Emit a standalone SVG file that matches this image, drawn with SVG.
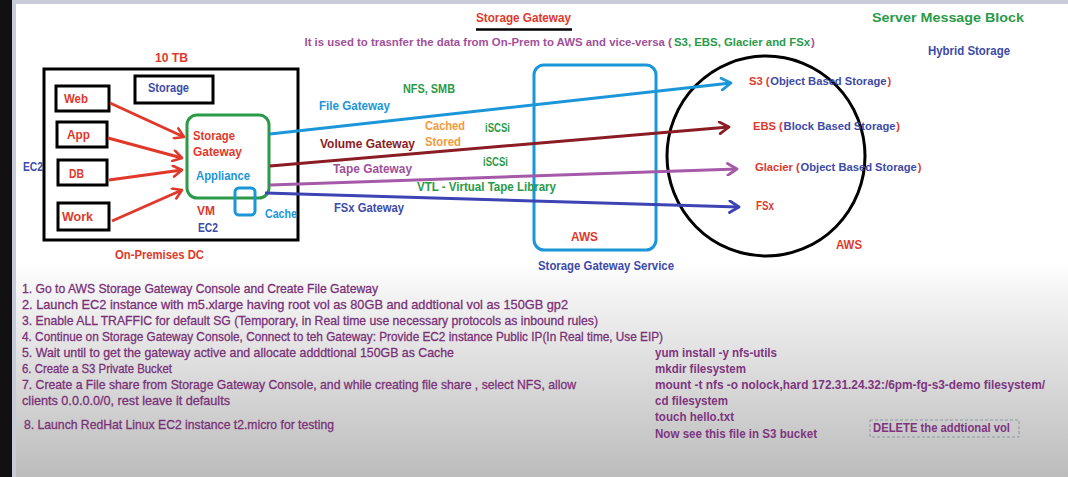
<svg xmlns="http://www.w3.org/2000/svg" width="1068" height="477" viewBox="0 0 1068 477">
<defs>
<linearGradient id="bg" x1="0" y1="0" x2="0" y2="1">
<stop offset="0" stop-color="#ffffff"/>
<stop offset="0.15" stop-color="#f3f3f3"/>
<stop offset="1" stop-color="#bcbcbc"/>
</linearGradient>
<marker id="mRed" viewBox="0 0 12 12" refX="10" refY="6" markerWidth="13" markerHeight="13" markerUnits="userSpaceOnUse" orient="auto"><path d="M2,1 L10,6 L2,11" fill="none" stroke="#e0392b" stroke-width="2.4" stroke-linecap="round" stroke-linejoin="round"/></marker>
<marker id="mLb" viewBox="0 0 12 12" refX="10" refY="6" markerWidth="14" markerHeight="14" markerUnits="userSpaceOnUse" orient="auto"><path d="M2,1 L10,6 L2,11" fill="none" stroke="#1b96d8" stroke-width="2.4" stroke-linecap="round" stroke-linejoin="round"/></marker>
<marker id="mDr" viewBox="0 0 12 12" refX="10" refY="6" markerWidth="14" markerHeight="14" markerUnits="userSpaceOnUse" orient="auto"><path d="M2,1 L10,6 L2,11" fill="none" stroke="#8b1c24" stroke-width="2.4" stroke-linecap="round" stroke-linejoin="round"/></marker>
<marker id="mPu" viewBox="0 0 12 12" refX="10" refY="6" markerWidth="14" markerHeight="14" markerUnits="userSpaceOnUse" orient="auto"><path d="M2,1 L10,6 L2,11" fill="none" stroke="#a45aa8" stroke-width="2.4" stroke-linecap="round" stroke-linejoin="round"/></marker>
<marker id="mDb" viewBox="0 0 12 12" refX="10" refY="6" markerWidth="14" markerHeight="14" markerUnits="userSpaceOnUse" orient="auto"><path d="M2,1 L10,6 L2,11" fill="none" stroke="#3c44b4" stroke-width="2.4" stroke-linecap="round" stroke-linejoin="round"/></marker>
</defs>
<style>
text{font-family:"Liberation Sans",Arial,sans-serif;font-size:12.5px;font-weight:bold;dominant-baseline:middle}
.red{fill:#e0392b}.grn{fill:#2a9a48}.blu{fill:#3c4aa8}.lb{fill:#1b96d8}.pur{fill:#a0509a}.org{fill:#f39a3c}.dr{fill:#8b1c24}
.sub{font-size:11.4px}
.aws{font-size:11.2px}
.step{fill:#7a3078;font-weight:normal;font-size:13px;stroke:#7a3078;stroke-width:0.3}
.cmd{fill:#7e3580;font-weight:bold;font-size:12.5px}
.box{fill:none;stroke:#000;stroke-width:3}
</style>
<rect width="1068" height="477" fill="#ffffff"/>
<rect x="0" y="262" width="1068" height="215" fill="url(#bg)"/>
<rect x="0" y="0" width="1068" height="4" fill="#c8ccd8"/>
<rect x="12" y="0" width="4" height="477" fill="#c8ccd8"/>
<rect x="0" y="0" width="12" height="477" fill="#111111"/>

<g id="title">
<text x="476" y="19" class="red" textLength="95" lengthAdjust="spacingAndGlyphs">Storage Gateway</text>
<line x1="476" y1="29.5" x2="572" y2="29.5" stroke="#000" stroke-width="2.5"/>
<text x="304.5" y="43" class="pur sub">It is used to trasnfer the data from On-Prem to AWS and vice-versa (</text>
<text x="674" y="43" class="grn sub">S3, EBS, Glacier and FSx</text>
<text x="811" y="43" class="pur sub">)</text>
<text x="872" y="19" class="grn" textLength="152" lengthAdjust="spacingAndGlyphs">Server Message Block</text>
<text x="928" y="52" class="blu" textLength="82" lengthAdjust="spacingAndGlyphs">Hybrid Storage</text>
</g>

<g id="onprem">
<rect x="44" y="69" width="254" height="171" class="box"/>
<text x="155" y="59" class="red" textLength="33" lengthAdjust="spacingAndGlyphs">10 TB</text>
<text x="23" y="168" class="blu" textLength="20" lengthAdjust="spacingAndGlyphs">EC2</text>
<text x="115" y="256" class="red" textLength="89" lengthAdjust="spacingAndGlyphs">On-Premises DC</text>
</g>
<g id="storage">
<rect x="135" y="76" width="78" height="27" class="box"/>
<text x="148" y="89" class="blu" textLength="41" lengthAdjust="spacingAndGlyphs">Storage</text>
</g>
<g id="web">
<rect x="56" y="86" width="53" height="25" class="box"/>
<text x="64" y="100" class="red" textLength="24" lengthAdjust="spacingAndGlyphs">Web</text>
</g>
<g id="app">
<rect x="57" y="122" width="50" height="25" class="box"/>
<text x="67" y="136" class="red" textLength="23" lengthAdjust="spacingAndGlyphs">App</text>
</g>
<g id="db">
<rect x="58" y="160" width="49" height="25" class="box"/>
<text x="69" y="175" class="red" textLength="15" lengthAdjust="spacingAndGlyphs">DB</text>
</g>
<g id="work">
<rect x="58" y="203" width="51" height="27" class="box"/>
<text x="62" y="218" class="red" textLength="31" lengthAdjust="spacingAndGlyphs">Work</text>
</g>
<g id="appliance">
<rect x="187" y="115" width="82" height="83" rx="10" fill="none" stroke="#2a9a48" stroke-width="3"/>
<text x="193" y="137" class="red" textLength="42" lengthAdjust="spacingAndGlyphs">Storage</text>
<text x="193" y="153" class="red" textLength="49" lengthAdjust="spacingAndGlyphs">Gateway</text>
<text x="196" y="177" class="lb" textLength="54" lengthAdjust="spacingAndGlyphs">Appliance</text>
<text x="197" y="212" class="red" textLength="18" lengthAdjust="spacingAndGlyphs">VM</text>
<text x="198" y="229" class="blu" textLength="20" lengthAdjust="spacingAndGlyphs">EC2</text>
</g>
<g id="cache">
<rect x="235" y="188" width="20" height="27" rx="4" fill="none" stroke="#1b96d8" stroke-width="3"/>
<text x="265" y="215" class="lb" textLength="32" lengthAdjust="spacingAndGlyphs">Cache</text>
</g>

<g id="aws-service">
<rect x="534" y="65" width="122" height="185" rx="10" fill="none" stroke="#1b96d8" stroke-width="3"/>
<text x="571" y="238" class="red" textLength="27" lengthAdjust="spacingAndGlyphs">AWS</text>
<text x="538" y="267" class="blu" textLength="136" lengthAdjust="spacingAndGlyphs">Storage Gateway Service</text>
</g>

<g id="aws-cloud">
<ellipse cx="766" cy="156" rx="99" ry="100" fill="none" stroke="#000" stroke-width="3"/>
<text x="836" y="246" class="red" textLength="26" lengthAdjust="spacingAndGlyphs">AWS</text>
</g>
<g id="s3">
<text x="749" y="82" class="red aws">S3 (</text>
<text x="770.2" y="82" class="blu aws">Object Based Storage</text>
<text x="887.4" y="82" class="red aws">)</text>
</g>
<g id="ebs">
<text x="753" y="127" class="red aws">EBS (</text>
<text x="783.6" y="127" class="blu aws">Block Based Storage</text>
<text x="896.3" y="127" class="red aws">)</text>
</g>
<g id="glacier">
<text x="755" y="168" class="red aws">Glacier (</text>
<text x="800.5" y="168" class="blu aws">Object Based Storage</text>
<text x="917.7" y="168" class="red aws">)</text>
</g>
<g id="fsx"><text x="756" y="207" class="red" textLength="18" lengthAdjust="spacingAndGlyphs">FSx</text></g>

<g id="connectors" fill="none">
<line x1="110" y1="103" x2="184" y2="137" stroke="#e0392b" stroke-width="3" marker-end="url(#mRed)"/>
<line x1="108" y1="138" x2="182" y2="158" stroke="#e0392b" stroke-width="3" marker-end="url(#mRed)"/>
<line x1="109" y1="180" x2="182" y2="170" stroke="#e0392b" stroke-width="3" marker-end="url(#mRed)"/>
<line x1="112" y1="221" x2="182" y2="190" stroke="#e0392b" stroke-width="3" marker-end="url(#mRed)"/>
<line x1="270" y1="134" x2="731" y2="83" stroke="#1b96d8" stroke-width="3" marker-end="url(#mLb)"/>
<line x1="270" y1="166" x2="729" y2="127" stroke="#8b1c24" stroke-width="3" marker-end="url(#mDr)"/>
<line x1="270" y1="185" x2="737" y2="169" stroke="#a45aa8" stroke-width="3" marker-end="url(#mPu)"/>
<line x1="265" y1="193" x2="739" y2="207" stroke="#3c44b4" stroke-width="3" marker-end="url(#mDb)"/>
</g>

<g id="connector-labels">
<text x="403" y="90" class="grn" textLength="52" lengthAdjust="spacingAndGlyphs">NFS, SMB</text>
<text x="319" y="107" class="lb" textLength="71" lengthAdjust="spacingAndGlyphs">File Gateway</text>
<text x="425" y="127" class="org" textLength="40" lengthAdjust="spacingAndGlyphs">Cached</text>
<text x="425" y="143" class="org" textLength="36" lengthAdjust="spacingAndGlyphs">Stored</text>
<text x="485" y="129" class="grn" textLength="25" lengthAdjust="spacingAndGlyphs">iSCSi</text>
<text x="320" y="145" class="dr" textLength="95" lengthAdjust="spacingAndGlyphs">Volume Gateway</text>
<text x="483" y="163" class="grn" textLength="25" lengthAdjust="spacingAndGlyphs">iSCSi</text>
<text x="333" y="170" class="pur" textLength="79" lengthAdjust="spacingAndGlyphs">Tape Gateway</text>
<text x="417" y="188" class="grn" textLength="139" lengthAdjust="spacingAndGlyphs">VTL - Virtual Tape Library</text>
<text x="334" y="209" class="blu" textLength="70" lengthAdjust="spacingAndGlyphs">FSx Gateway</text>
</g>

<g id="steps">
<text x="22" y="290" class="step" textLength="356" lengthAdjust="spacingAndGlyphs">1. Go to AWS Storage Gateway Console  and Create File Gateway</text>
<text x="22" y="306" class="step" textLength="546" lengthAdjust="spacingAndGlyphs">2. Launch EC2 instance with m5.xlarge having root vol as 80GB and addtional vol as 150GB gp2</text>
<text x="22" y="322" class="step" textLength="576" lengthAdjust="spacingAndGlyphs">3. Enable ALL TRAFFIC for default SG (Temporary, in Real time use necessary protocols as inbound rules)</text>
<text x="22" y="338" class="step" textLength="641" lengthAdjust="spacingAndGlyphs">4. Continue on Storage Gateway Console, Connect to teh Gateway: Provide EC2 instance Public IP(In Real time, Use EIP)</text>
<text x="22" y="354" class="step" textLength="432" lengthAdjust="spacingAndGlyphs">5. Wait until to get the gateway active and allocate adddtional 150GB as Cache</text>
<text x="22" y="370" class="step" textLength="150" lengthAdjust="spacingAndGlyphs">6. Create a S3 Private Bucket</text>
<text x="22" y="386" class="step" textLength="554" lengthAdjust="spacingAndGlyphs">7. Create a File share from Storage Gateway Console, and while creating file share , select NFS, allow</text>
<text x="22" y="402" class="step" textLength="208" lengthAdjust="spacingAndGlyphs">clients 0.0.0.0/0, rest leave it defaults</text>
<text x="24" y="426" class="step" textLength="310" lengthAdjust="spacingAndGlyphs">8. Launch RedHat Linux EC2 instance t2.micro for testing</text>
</g>

<g id="commands">
<text x="655" y="354" class="cmd" textLength="122" lengthAdjust="spacingAndGlyphs">yum install -y nfs-utils</text>
<text x="655" y="370" class="cmd" textLength="91" lengthAdjust="spacingAndGlyphs">mkdir filesystem</text>
<text x="655" y="386" class="cmd" textLength="390" lengthAdjust="spacingAndGlyphs">mount -t nfs -o nolock,hard 172.31.24.32:/6pm-fg-s3-demo filesystem/</text>
<text x="655" y="402" class="cmd" textLength="73" lengthAdjust="spacingAndGlyphs">cd filesystem</text>
<text x="655" y="418" class="cmd" textLength="79" lengthAdjust="spacingAndGlyphs">touch hello.txt</text>
<text x="655" y="435" class="cmd" textLength="162" lengthAdjust="spacingAndGlyphs">Now see this file in S3 bucket</text>
</g>
<g id="note">
<rect x="870" y="420" width="149" height="17" fill="none" stroke="#8a9aa0" stroke-width="1" stroke-dasharray="3,2"/>
<text x="873" y="428.5" class="cmd" textLength="137" lengthAdjust="spacingAndGlyphs">DELETE the addtional vol</text>
</g>
</svg>
